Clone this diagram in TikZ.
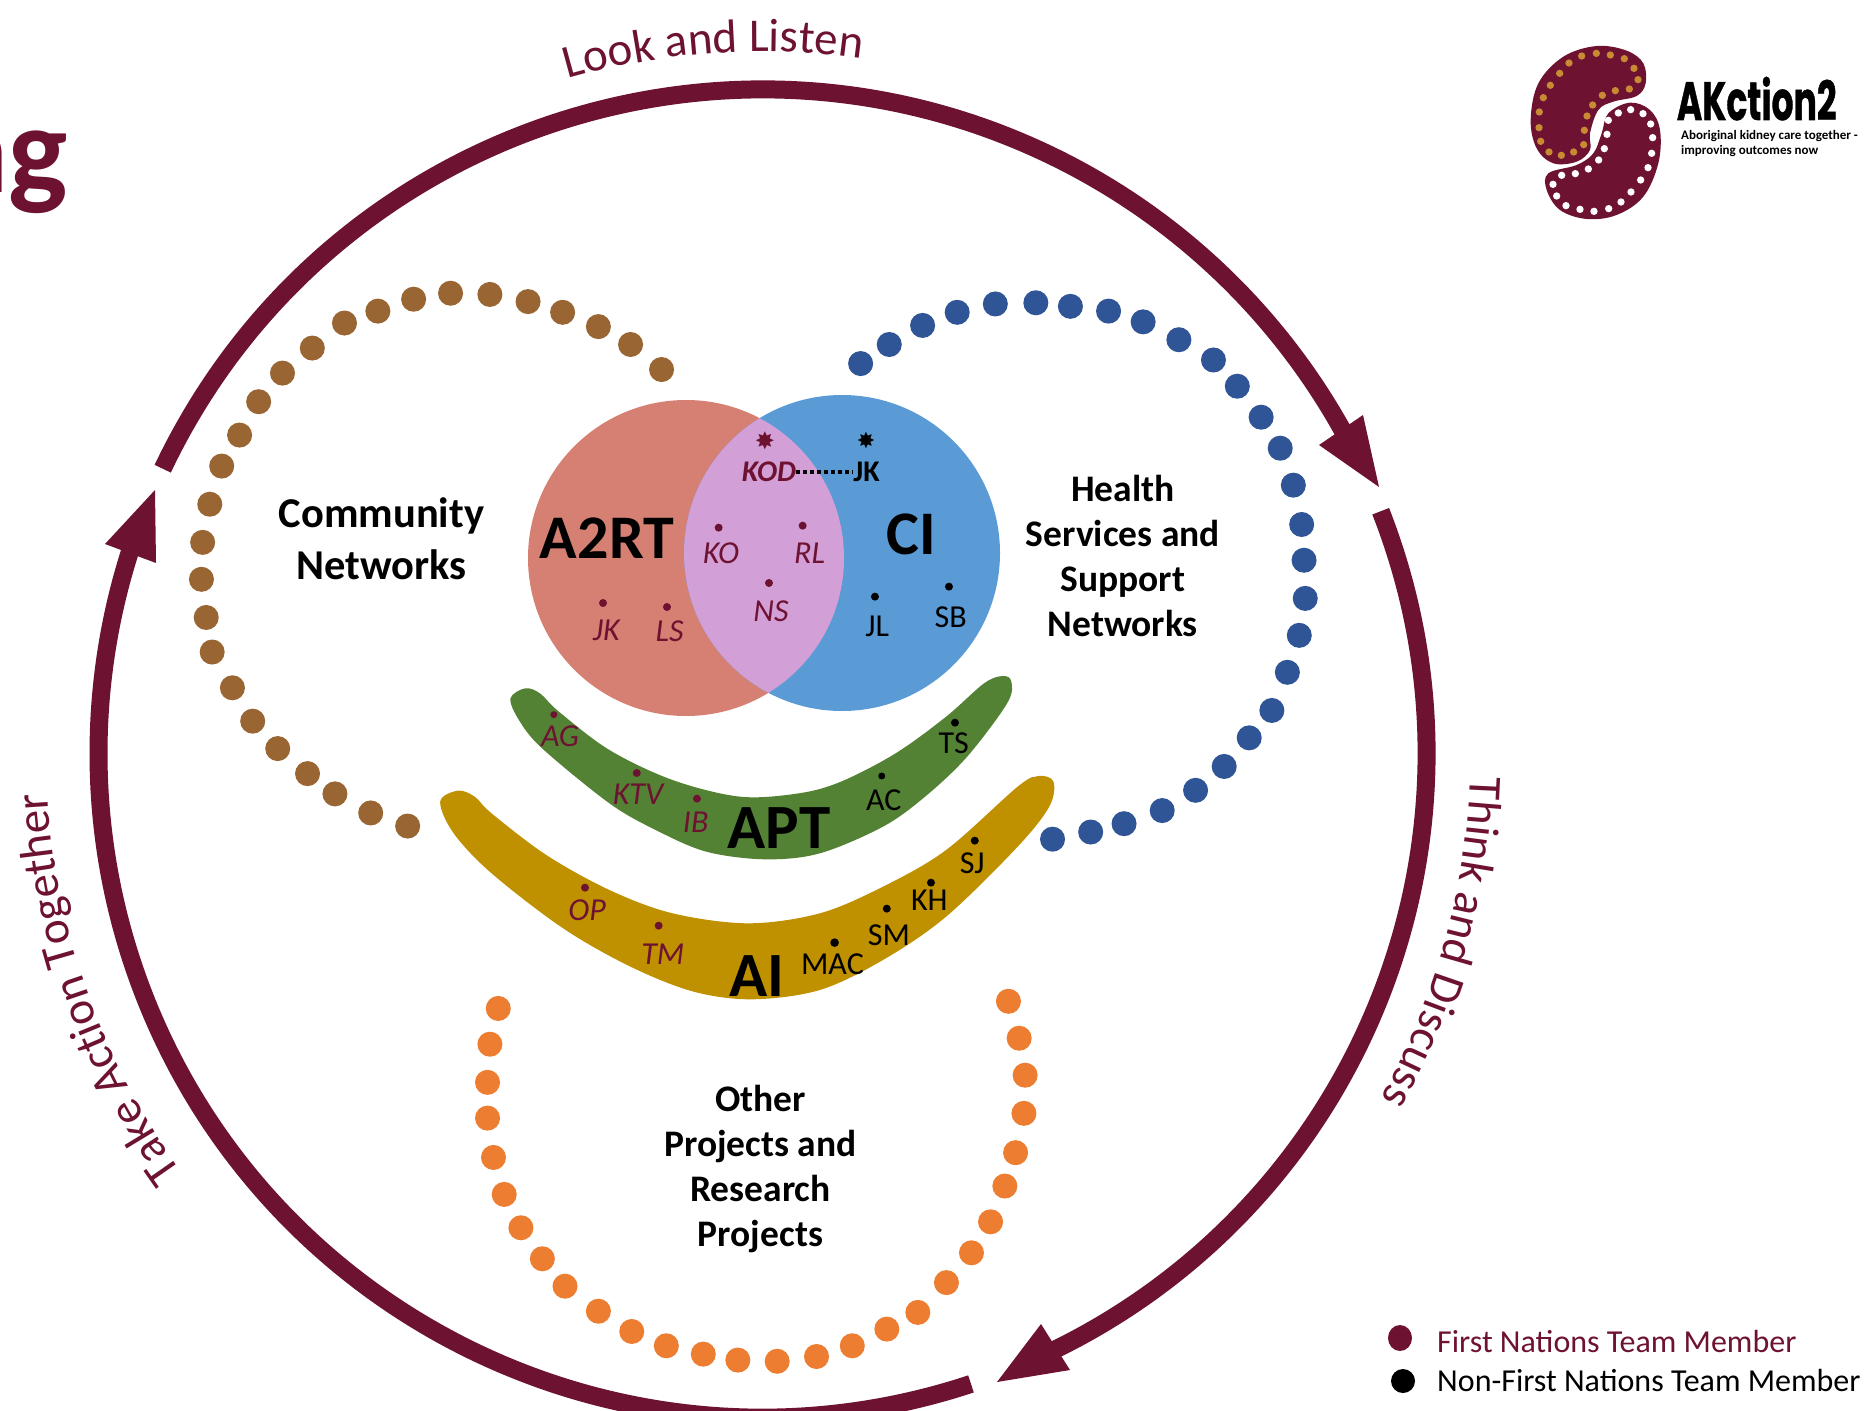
\documentclass[tikz,border=0pt]{standalone}
\usepackage{fontspec}
\setmainfont{Carlito}
\usetikzlibrary{decorations.text}
\definecolor{maroon}{HTML}{6E1232}
\definecolor{brownish}{HTML}{996633}
\definecolor{bluedot}{HTML}{2F5597}
\definecolor{orangedot}{HTML}{ED7D31}
\definecolor{salmon}{HTML}{D67F73}
\definecolor{skyblue}{HTML}{5B9BD5}
\definecolor{lilac}{HTML}{D29FD6}
\definecolor{leaf}{HTML}{548235}
\definecolor{ochre}{HTML}{BF9000}
\definecolor{logoorange}{HTML}{C98A34}
\tikzset{
    ringline/.style={line width=18pt, maroon},
    ringtext/.style={postaction={decorate}, decoration={text along path, text align=center,
        text={|\fontsize{47}{47}\selectfont\color{maroon}|#1}}},
    netlabel/.style={font=\fontsize{37.5}{45}\selectfont\bfseries, align=center},
    groupname/.style={font=\fontsize{62}{62}\selectfont\bfseries},
    fnname/.style={font=\fontsize{32}{32}\selectfont\itshape, text=maroon, inner sep=0pt},
    nfname/.style={font=\fontsize{32}{32}\selectfont, inner sep=0pt},
    fndot/.style={fill=maroon},
    nfdot/.style={fill=black},
    zoomA/.style={shift={(500pt,-380pt)}, x=0.3333pt, y=-0.3333pt},
    zoomB/.style={shift={(420pt,-670pt)}, x=0.4209pt, y=-0.3333pt},
    zoomC/.style={shift={(1480pt,-20pt)}, x=0.3333pt, y=-0.3333pt},
    shrunk/.style={x=1.192pt, y=-1.192pt}
}
\begin{document}
\begin{tikzpicture}[x=1pt, y=-1pt]
    \useasboundingbox (0,0) rectangle (1869,1411);
    \clip (0,0) rectangle (1869,1411);

    % title, cut by the page
    \node[font=\fontsize{125}{125}\selectfont\bfseries, text=maroon, anchor=base east, inner sep=0pt] (title) at (68,192) {ng};

    % ring
    \begin{scope}[shift={(762.5pt,-753.5pt)}, x=1pt, y=1pt]
        \draw[ringline] (154.6:664pt) arc[start angle=154.6, end angle=28, radius=664pt];
        \draw[ringline] (21.4:664pt) arc[start angle=21.4, end angle=-65, radius=664pt];
        \draw[ringline] (-71.7:664pt) arc[start angle=-71.7, end angle=-199, radius=664pt];
        \path[ringtext={Look and Listen}] (108:702pt) arc[start angle=108, end angle=80, radius=702pt];
        \path[ringtext={Think and Discuss}] (1:708pt) arc[start angle=1, end angle=-32, radius=708pt];
        \path[ringtext={Take Action Together}] (-143:716pt) arc[start angle=-143, end angle=-178, radius=716pt];
    \end{scope}
    \fill[maroon] (1379,487) -- (1319,445) -- (1363,415) -- cycle;
    \fill[maroon] (997,1382) -- (1070,1370) -- (1041,1324) -- cycle;
    \fill[maroon] (155,490) -- (105,544) -- (156,563) -- cycle;

    % dotted networks
    \begin{scope}[shrunk]
        \foreach \px/\py in {555/310,529/289,502/274,472/262,443/253,411/247,378/246,347/251,317/261,289/271,262/292,237/313,217/337,201/365,186/391,176/423,170/455,169/486,173/518,178/547,195/577,212/605,233/628,258/649,281/666,311/682,342/693}
            \fill[brownish] (\px,\py) circle (10.5);
        \foreach \px/\py in {722/305,746/289,774/273,803/262,835/255,869/254,898/257,930/261,959/270,989/285,1018/302,1038/324,1058/350,1074/376,1085/407,1092/440,1094/470,1095/502,1090/533,1080/564,1067/596,1048/619,1027/643,1003/663,975/680,943/691,915/698,883/704}
            \fill[bluedot] (\px,\py) circle (10.5);
        \foreach \px/\py in {418/846,411/876,409/908,409/938,414/971,423/1002,437/1030,455/1056,474/1079,502/1100,530/1117,559/1129,590/1136,619/1141,652/1142,685/1138,715/1129,744/1115,770/1101,794/1076,815/1051,831/1025,843/995,852/967,859/934,860/902,855/871,846/840}
            \fill[orangedot] (\px,\py) circle (10.5);
        \node[netlabel, font=\fontsize{42.5}{52}\selectfont\bfseries] (community) at (320,452) {Community\\Networks};
        \node[netlabel] (health) at (942,466) {Health\\Services and\\Support\\Networks};
        \node[netlabel] (other) at (638,981) {Other\\Projects and\\Research\\Projects};
    \end{scope}

    % venn
    \fill[salmon] (686,558) circle (158);
    \fill[skyblue] (842,553) circle (158);
    \begin{scope}
        \clip (686,558) circle (158);
        \fill[lilac] (842,553) circle (158);
    \end{scope}

    % boomerangs
    \begin{scope}[zoomB]
        \fill[leaf] plot[smooth cycle, tension=0.55] coordinates {(215,85) (250,55) (285,70) (330,125) (450,240) (600,330) (760,380) (900,370) (1000,335) (1130,250) (1250,140) (1340,40) (1385,18) (1405,35) (1395,100) (1300,260) (1200,380) (1100,470) (950,550) (820,568) (680,545) (560,480) (450,400) (290,235) (235,150)};
        \fill[ochre] plot[smooth cycle, tension=0.55] coordinates {(48,395) (90,362) (130,380) (170,430) (300,555) (450,660) (600,730) (780,760) (950,730) (1100,650) (1250,540) (1420,350) (1470,318) (1505,335) (1495,410) (1420,530) (1250,740) (1100,870) (950,960) (790,988) (650,965) (500,890) (340,775) (170,610) (80,490)};

        \node[groupname, font=\fontsize{63}{63}\selectfont\bfseries] (APT) at (853,473) {APT};
        \node[groupname, font=\fontsize{63}{63}\selectfont\bfseries] (AI) at (800,918) {AI};

        \fill[fndot] (318,134) circle (3.5pt);
        \node[fnname] (AG) at (333,198) {AG};
        \fill[fndot] (515,309) circle (4pt);
        \node[fnname] (KTV) at (518,374) {KTV};
        \fill[fndot] (658,386) circle (4pt);
        \node[fnname] (IB) at (655,456) {IB};
        \fill[nfdot] (1097,318) circle (3.5pt);
        \node[nfname] (AC) at (1102,390) {AC};
        \fill[nfdot] (1271,158) circle (4pt);
        \node[nfname] (TS) at (1268,221) {TS};

        \fill[fndot] (392,653) circle (4pt);
        \node[fnname] (OP) at (397,720) {OP};
        \fill[fndot] (567,767) circle (4pt);
        \node[fnname] (TM) at (577,852) {TM};
        \fill[nfdot] (985,818) circle (4.3pt);
        \node[nfname] (MAC) at (980,882) {MAC};
        \fill[nfdot] (1109,716) circle (4pt);
        \node[nfname] (SM) at (1114,795) {SM};
        \fill[nfdot] (1214,638) circle (4pt);
        \node[nfname] (KH) at (1210,692) {KH};
        \fill[nfdot] (1318,512) circle (4pt);
        \node[nfname] (SJ) at (1312,580) {SJ};
    \end{scope}

    % names in the venn
    \begin{scope}[zoomA]
        \node[groupname] (A2RT) at (321,474) {A2RT};
        \node[groupname] (CI) at (1235,463) {CI};
        \node[fnname, font=\fontsize{30}{30}\selectfont\bfseries\itshape] (KOD) at (807,276) {KOD};
        \node[nfname, font=\fontsize{30}{30}\selectfont\bfseries] (JKtop) at (1100,276) {JK};
        \draw[line width=3.5pt, dash pattern=on 4pt off 3pt] (KOD.east) -- (JKtop.west);
        \node[text=maroon, font=\fontsize{24}{24}\selectfont, inner sep=0pt] (starA) at (795,182) {\fontspec{DejaVu Sans}✸};
        \node[font=\fontsize{22}{22}\selectfont, inner sep=0pt] (starB) at (1098,180) {\fontspec{DejaVu Sans}✸};

        \fill[fndot] (656,443) circle (4pt);
        \node[fnname] (KO) at (663,521) {KO};
        \fill[fndot] (908,437) circle (4pt);
        \node[fnname] (RL) at (929,520) {RL};
        \fill[fndot] (807,609) circle (4pt);
        \node[fnname] (NS) at (813,693) {NS};
        \fill[fndot] (309,669) circle (4pt);
        \node[fnname] (JK) at (319,750) {JK};
        \fill[fndot] (501,681) circle (4pt);
        \node[fnname] (LS) at (509,755) {LS};
        \fill[nfdot] (1125,650) circle (4pt);
        \node[nfname] (JL) at (1132,738) {JL};
        \fill[nfdot] (1347,620) circle (4pt);
        \node[nfname] (SB) at (1352,712) {SB};
    \end{scope}

    % logo
    \begin{scope}[zoomC]
        \fill[maroon] plot[smooth cycle, tension=0.6] coordinates {(350,78) (440,92) (490,130) (497,190) (470,228) (400,245) (355,270) (330,340) (330,390) (290,425) (220,430) (170,385) (152,300) (175,190) (250,110)};
        \fill[maroon] plot[smooth cycle, tension=0.6] coordinates {(450,248) (510,270) (540,330) (535,430) (490,530) (410,585) (320,597) (240,570) (200,510) (205,460) (290,435) (340,400) (365,340) (385,280)};
        \foreach \px/\py in {349/100,391/105,433/116,462/145,474/179,448/207,406/212,367/226,338/255,321/288,313/331,311/374,281/396,244/406,207/396,182/364,177/323,178/276,190/233,211/196,239/160,267/129,305/108}
            \fill[logoorange] (\px,\py) circle (11);
        \foreach \px/\py in {452/269,489/281,512/312,518/353,515/400,504/443,482/480,453/516,423/546,386/566,342/574,300/568,258/557,230/528,219/493,245/466,286/461,325/447,356/420,373/386,381/343,385/301,415/279}
            \fill[white] (\px,\py) circle (11);
        \node[font=\fontsize{54}{54}\selectfont\bfseries, anchor=base west, inner sep=0pt] (logoname) at (590,300) {\scalebox{0.64}[1]{\fontspec{Poppins}[FakeBold=1]\bfseries AKction2}};
        \node[font=\fontsize{13}{15}\selectfont\bfseries, align=left, anchor=north west, inner sep=0pt] (logosub) at (603,332) {Aboriginal kidney care together -\\improving outcomes now};
    \end{scope}

    % legend
    \fill[maroon] (1400,1338) ellipse (12 and 13);
    \node[font=\fontsize{32}{32}\selectfont, text=maroon, anchor=base west, inner sep=0pt] (fnlegend) at (1437,1352) {First Nations Team Member};
    \fill[black] (1403,1381) circle (12);
    \node[font=\fontsize{32}{32}\selectfont, anchor=base west, inner sep=0pt] (nflegend) at (1437,1391) {Non-First Nations Team Member};
\end{tikzpicture}
\end{document}
